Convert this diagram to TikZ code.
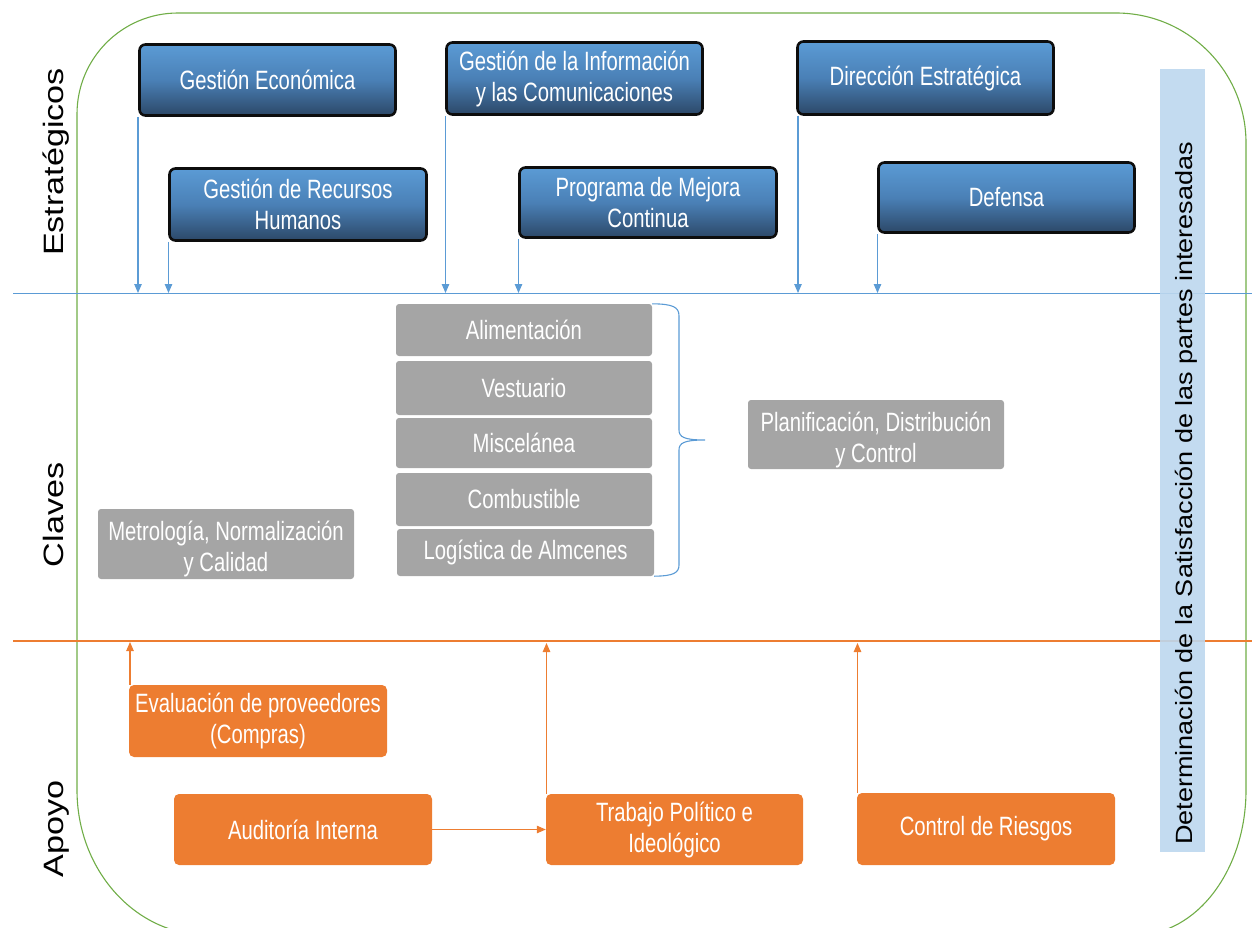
\documentclass[tikz,border=0pt]{standalone}
\usepackage{fontspec}
\setmainfont{Liberation Sans}
\newfontfamily\boxfont[FakeStretch=0.765]{Liberation Sans}
\newfontfamily\sidefont[FakeStretch=1.22]{Liberation Sans}
\newfontfamily\barfont[FakeStretch=1.15]{Liberation Sans}
\usetikzlibrary{arrows.meta}

\definecolor{frameGreen}{HTML}{70AD47}
\definecolor{lineBlue}{HTML}{5B9BD5}
\definecolor{lineOrange}{HTML}{ED7D31}
\definecolor{blueTop}{HTML}{5B9BD5}
\definecolor{blueMid}{HTML}{4A80B6}
\definecolor{blueBot}{HTML}{2C4868}
\definecolor{boxEdge}{HTML}{0D0D0D}
\definecolor{greyFill}{HTML}{A5A5A5}
\definecolor{orangeFill}{HTML}{ED7D31}
\definecolor{barFill}{HTML}{BDD7EE}

\tikzset{
  boxtext/.style={text=white, align=center, font=\boxfont\fontsize{26.5}{31}\selectfont},
  bluebox/.style={boxtext, draw=boxEdge, line width=2.6pt, rounded corners=6pt,
    top color=blueTop, bottom color=blueBot, middle color=blueMid, inner sep=0pt},
  greybox/.style={boxtext, fill=greyFill, rounded corners=3pt, inner sep=0pt},
  orangebox/.style={boxtext, fill=orangeFill, rounded corners=5pt, inner sep=0pt},
  barrow/.style={draw=lineBlue, line width=1.1pt, -{Triangle[length=9pt,width=7.5pt]}},
  oarrow/.style={draw=lineOrange, line width=1.1pt, -{Triangle[length=9pt,width=7.5pt]}},
  sidelabel/.style={font=\sidefont\fontsize{28}{32}\selectfont, inner sep=0pt, rotate=90, anchor=base},
  bartext/.style={font=\barfont\fontsize{23.5}{28}\selectfont, inner sep=0pt, rotate=90, anchor=base west},
}

\begin{document}
\begin{tikzpicture}[x=1pt,y=-1pt]
\useasboundingbox (0,0) rectangle (1252,928);

% green outer frame, running off the bottom edge
\begin{scope}
\clip (0,0) rectangle (1252,928);
\draw[frameGreen, line width=1.1pt]
  (178,13) -- (1116,13)
  .. controls (1187.8,13) and (1246,71.2) .. (1246,143)
  -- (1246,790)
  .. controls (1246,870) and (1196.7,935) .. (1136,935)
  -- (207,935)
  .. controls (135.2,935) and (77,870) .. (77,790)
  -- (77,114)
  .. controls (77,58.2) and (122.2,13) .. (178,13) -- cycle;
\end{scope}

% level separators
\coordinate (sepBL) at (13,293.3);
\coordinate (sepBR) at (1252,293.3);
\coordinate (sepOL) at (13,641);
\coordinate (sepOR) at (1252,641);
\draw[lineBlue, line width=1.1pt] (sepBL) -- (sepBR);
\draw[lineOrange, line width=1.1pt] (sepOL) -- (sepOR);

% level labels
\node[sidelabel] (lest) at (63,162) {Estratégicos};
\node[sidelabel] (lcla) at (63,515) {Claves};
\node[sidelabel] (lapo) at (63,829) {Apoyo};

% stakeholder bar
\node[fill=barFill, fill opacity=0.9, minimum width=45, minimum height=783, inner sep=0pt] (bar) at (1182.5,460.5) {};
\node[bartext] (bartxt) at (1192,845) {Determinación de la Satisfacción de las partes interesadas};

% strategic processes
\node[bluebox, minimum width=256, minimum height=71] (ge)  at (267.5,80)   {Gestión Económica};
\node[bluebox, minimum width=257, minimum height=72] (grh) at (298,204.5)  {Gestión de Recursos\\Humanos};
\node[bluebox, minimum width=256, minimum height=72] (gic) at (574.5,78.5) {Gestión de la Información\\y las Comunicaciones};
\node[bluebox, minimum width=257, minimum height=70] (pmc) at (648,202.5)  {Programa de Mejora\\Continua};
\node[bluebox, minimum width=256, minimum height=73] (de)  at (925.5,78)   {Dirección Estratégica};
\node[bluebox, minimum width=256, minimum height=70] (def) at (1006.5,197.5) {Defensa};

\coordinate (ge0)  at (138,293);
\coordinate (grh0) at (168.5,293);
\coordinate (gic0) at (445.5,293);
\coordinate (pmc0) at (518.5,293);
\coordinate (de0)  at (798,293);
\coordinate (def0) at (877.5,293);
\draw[barrow] (ge.south west -| ge0)   -- (ge0);
\draw[barrow] (grh.south west -| grh0) -- (grh0);
\draw[barrow] (gic.south west -| gic0) -- (gic0);
\draw[barrow] (pmc.south west -| pmc0) -- (pmc0);
\draw[barrow] (de.south west -| de0)   -- (de0);
\draw[barrow] (def.south west -| def0) -- (def0);

% key processes
\node[greybox, minimum width=256, minimum height=52] (al) at (524,330)    {Alimentación};
\node[greybox, minimum width=256, minimum height=54] (ve) at (524,388)    {Vestuario};
\node[greybox, minimum width=256, minimum height=50] (mi) at (524,443)    {Miscelánea};
\node[greybox, minimum width=256, minimum height=53] (co) at (524,499.5)  {Combustible};
\node[greybox, minimum width=257, minimum height=47] (lo) at (525.5,552.5) {Logística de Almcenes};

\node[greybox, minimum width=256, minimum height=69] (pl) at (876,434.5) {};
\node[boxtext] (pltxt) at ([yshift=-5pt]pl.center) {Planificación, Distribución\\y Control};
\node[greybox, minimum width=256, minimum height=70] (me) at (226,544) {};
\node[boxtext] (metxt) at ([yshift=-5pt]me.center) {Metrología, Normalización\\y Calidad};

% brace grouping the logistics processes
\draw[lineBlue, line width=1.1pt]
  (al.north east) .. controls (673,304) and (679,307) .. (679,316)
  -- (679,430) .. controls (679,437) and (684,440) .. (705,440)
  .. controls (684,440) and (679,443) .. (679,450)
  -- (679,565) .. controls (679,573) and (673,576) .. (lo.south east);

% support processes
\node[orangebox, minimum width=258, minimum height=72] (ev) at (258,721)     {Evaluación de proveedores\\(Compras)};
\node[orangebox, minimum width=258, minimum height=71] (au) at (303,829.5)   {Auditoría Interna};
\node[orangebox, minimum width=257, minimum height=71] (tp) at (674.5,829.5) {Trabajo Político e\\Ideológico};
\node[orangebox, minimum width=258, minimum height=72] (cr) at (986,829)     {Control de Riesgos};

\coordinate (ev1) at (130,642);
\coordinate (tp1) at (546.5,643);
\coordinate (cr1) at (857.5,643);
\draw[oarrow] (ev.north west -| ev1) -- (ev1);
\draw[oarrow] (tp.north west -| tp1) -- (tp1);
\draw[oarrow] (cr.north west -| cr1) -- (cr1);
\draw[oarrow] (au.east) -- (tp.west);
\end{tikzpicture}
\end{document}
